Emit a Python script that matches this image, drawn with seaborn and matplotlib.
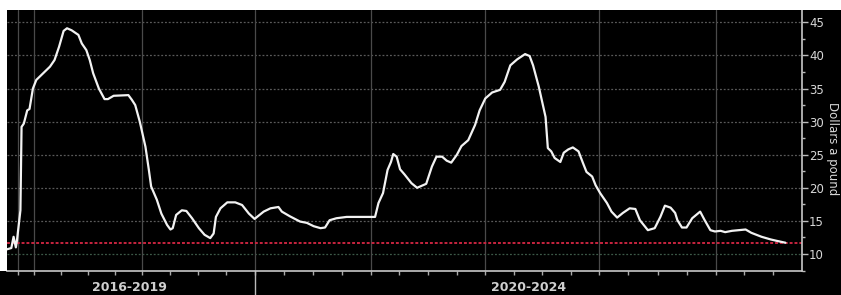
import numpy as np
import pandas as pd
import seaborn as sns
import matplotlib.pyplot as plt
from matplotlib.patches import Rectangle
from matplotlib.transforms import blended_transform_factory

# price series (x in fractional years)
years = [2015.76, 2015.80, 2015.82, 2015.84, 2015.85, 2015.88, 2015.89, 2015.91, 2015.94, 2015.96,
         2015.99, 2016.02, 2016.08, 2016.14, 2016.18, 2016.22, 2016.26, 2016.29, 2016.33, 2016.39,
         2016.42, 2016.46, 2016.49, 2016.52, 2016.57, 2016.62, 2016.65, 2016.70, 2016.83, 2016.86,
         2016.89, 2016.93, 2016.98, 2017.01, 2017.03, 2017.08, 2017.12, 2017.17, 2017.20, 2017.22,
         2017.25, 2017.30, 2017.34, 2017.39, 2017.45, 2017.50, 2017.55, 2017.58, 2017.60, 2017.64,
         2017.70, 2017.77, 2017.83, 2017.89, 2017.94, 2018.02, 2018.08, 2018.15, 2018.18, 2018.25,
         2018.34, 2018.40, 2018.46, 2018.52, 2018.56, 2018.60, 2018.66, 2018.75, 2018.84, 2019.00,
         2019.03, 2019.07, 2019.11, 2019.14, 2019.16, 2019.19, 2019.22, 2019.26, 2019.32, 2019.37,
         2019.41, 2019.45, 2019.50, 2019.54, 2019.59, 2019.63, 2019.67, 2019.72, 2019.76, 2019.82,
         2019.88, 2019.92, 2019.97, 2020.03, 2020.10, 2020.14, 2020.19, 2020.25, 2020.32, 2020.36,
         2020.39, 2020.44, 2020.50, 2020.52, 2020.55, 2020.58, 2020.63, 2020.66, 2020.70, 2020.74,
         2020.79, 2020.83, 2020.86, 2020.91, 2020.94, 2020.98, 2021.04, 2021.08, 2021.13, 2021.18,
         2021.24, 2021.29, 2021.33, 2021.40, 2021.46, 2021.51, 2021.55, 2021.60, 2021.64, 2021.66,
         2021.70, 2021.74, 2021.79, 2021.86, 2021.90, 2021.95, 2021.99, 2022.04, 2022.08, 2022.14,
         2022.20, 2022.26, 2022.31, 2022.40, 2022.48, 2022.53, 2022.61]
price = [10.7, 10.9, 12.6, 11.0, 12.1, 16.6, 29.2, 29.7, 31.7, 31.9,
         35.0, 36.3, 37.3, 38.3, 39.3, 41.3, 43.7, 44.1, 43.8, 43.1,
         41.8, 40.8, 39.3, 37.3, 35.0, 33.4, 33.4, 33.9, 34.0, 33.3,
         32.5, 30.0, 26.2, 22.7, 20.2, 18.2, 16.1, 14.4, 13.7, 13.9,
         15.9, 16.6, 16.5, 15.4, 13.9, 12.9, 12.4, 13.1, 15.6, 16.9,
         17.8, 17.8, 17.4, 16.1, 15.3, 16.4, 16.9, 17.1, 16.4, 15.7,
         14.9, 14.7, 14.2, 13.9, 14.0, 15.1, 15.4, 15.6, 15.6, 15.6,
         17.7, 19.2, 22.7, 23.9, 25.1, 24.7, 22.8, 22.0, 20.7, 20.0,
         20.3, 20.6, 23.2, 24.7, 24.7, 24.1, 23.8, 25.0, 26.3, 27.2,
         29.5, 31.7, 33.5, 34.4, 34.8, 36.0, 38.5, 39.4, 40.2, 39.9,
         38.5, 35.3, 30.7, 26.0, 25.5, 24.5, 23.9, 25.3, 25.8, 26.1,
         25.5, 23.7, 22.4, 21.7, 20.4, 19.2, 17.7, 16.4, 15.5, 16.2,
         16.9, 16.8, 15.1, 13.6, 13.9, 15.6, 17.3, 17.0, 16.2, 15.1,
         14.0, 14.0, 15.4, 16.4, 15.1, 13.6, 13.4, 13.5, 13.3, 13.5,
         13.6, 13.7, 13.2, 12.6, 12.2, 12.0, 11.7]

ref_level = 11.7
grid_years = [2015.86, 2016.0, 2016.95, 2017.94, 2018.96, 2019.97, 2020.97, 2022.0]
period_labels = ["2016-2019", "2020-2024"]
period_label_x = [2016.84, 2020.35]
period_split = 2017.94

df = pd.DataFrame({"year": years, "price": price})

sns.set_style("dark", {"axes.facecolor": "black", "figure.facecolor": "black"})
fig = plt.figure(figsize=(8.41, 2.95), dpi=100)
ax = fig.add_axes([7 / 841, 24 / 295, 795 / 841, 261 / 295])

sns.lineplot(data=df, x="year", y="price", ax=ax, color="#f2f2f2", linewidth=1.6)
ax.axhline(ref_level, color="#c8243f", linewidth=1.4, linestyle=(0, (1.5, 1)), zorder=1)

ax.set_xlim(2015.762, 2022.756)
ax.set_ylim(7.43, 46.86)

# grid
ax.set_yticks(np.arange(10, 46, 5))
ax.set_yticks(np.arange(7.5, 46.9, 2.5), minor=True)
for v in np.arange(10, 46, 5):
    col = "#3d5a48" if v == 10 else "#5a5a5a"
    ax.axhline(v, color=col, linewidth=0.9, linestyle=(0, (1.5, 1.5)), zorder=0)
for g in grid_years:
    ax.axvline(g, color="#4a4a4a", linewidth=0.9, zorder=0)

# quarterly ticks between year grid lines
qticks = []
for a, b in zip(grid_years[1:-1], grid_years[2:]):
    qticks += list(np.linspace(a, b, 5)[:-1])
qticks += [grid_years[-1] + 0.25 * k for k in range(3)]
qticks = [grid_years[0]] + qticks
ax.set_xticks(qticks)
ax.set_xticklabels([])

ax.yaxis.tick_right()
ax.yaxis.set_label_position("right")
ax.tick_params(axis="y", which="major", length=4, width=1, color="#bbbbbb",
               labelcolor="#d8d8d8", labelsize=8.5, pad=1)
ax.tick_params(axis="y", which="minor", length=2, width=1, color="#bbbbbb", right=True, left=False)
ax.tick_params(axis="x", which="major", length=3, width=1, color="#aaaaaa", bottom=True)
ax.set_ylabel("Dollars a pound", rotation=270, color="#d8d8d8", fontsize=8.5)
ax.yaxis.set_label_coords(1.046, 0.47)
ax.set_xlabel("")

for s in ["top", "left"]:
    ax.spines[s].set_visible(False)
for s in ["bottom", "right"]:
    ax.spines[s].set_color("#c8c8c8")
    ax.spines[s].set_linewidth(1.2)

trans = blended_transform_factory(ax.transData, ax.transAxes)
for lab, xx in zip(period_labels, period_label_x):
    ax.text(xx, -0.065, lab, transform=trans, ha="center", va="center",
            color="#cfcfcf", fontsize=9, fontweight="bold")
ax.plot([period_split, period_split], [0, -0.1], transform=trans, color="#bbbbbb",
        linewidth=1, clip_on=False)

# white page margins around the screenshot
fig.patches.append(Rectangle((0, 1 - 10 / 295), 1, 10 / 295, transform=fig.transFigure,
                             facecolor="white", edgecolor="none", zorder=5))
fig.patches.append(Rectangle((0, 24 / 295), 7 / 841, 261 / 295, transform=fig.transFigure,
                             facecolor="white", edgecolor="none", zorder=5))

fig.savefig("out.png", dpi=100, facecolor="black")
